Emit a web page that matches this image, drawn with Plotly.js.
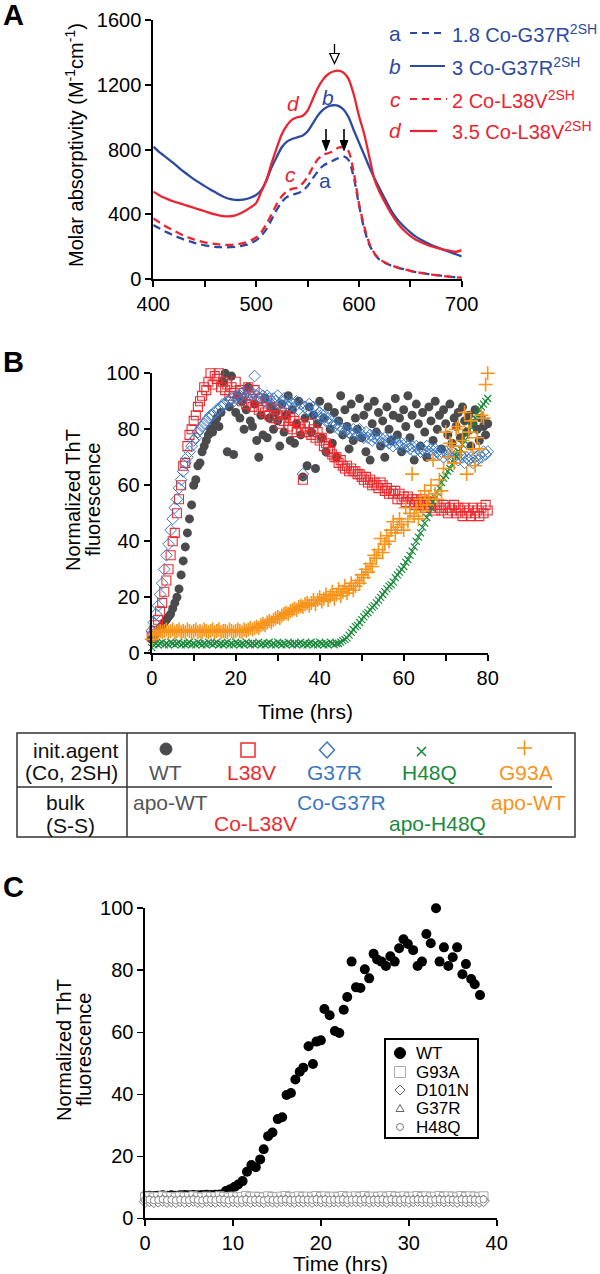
<!DOCTYPE html>
<html><head><meta charset="utf-8">
<script src="https://cdn.plot.ly/plotly-3.0.1.min.js"></script>
<style>html,body{margin:0;padding:0;background:#fff}#chart{width:600px;height:1274px}</style>
</head><body><div id="chart"></div>
<script>
// ---------------- Panel A data ----------------
const wavelength = [400,405,410,415,420,425,430,435,440,445,450,455,460,465,470,475,480,485,490,495,
500,505,510,515,520,525,530,535,540,545,550,555,560,565,570,575,580,585,590,595,
600,605,610,615,620,625,630,635,640,645,650,655,660,665,670,675,680,685,690,695,700];
const abs_a_G37R_18 = [335,318,300,285,270,257,245,235,225,217,
210,205,200,198,197,198,200,205,212,224,
240,268,310,368,428,478,508,522,530,545,
575,622,665,700,718,733,748,758,735,630,
460,315,215,158,122,102,88,77,68,60,
52,45,40,35,30,26,22,18,15,12,10];
const abs_b_G37R_3 = [818,790,765,740,715,688,662,638,615,595,
575,556,538,520,505,495,490,490,495,505,
520,550,610,690,755,815,850,866,876,886,
912,960,1010,1045,1066,1074,1070,1048,1000,920,
845,770,695,625,562,500,440,390,350,318,
290,265,245,228,213,200,188,176,164,153,142];
const abs_c_L38V_2 = [376,355,335,316,300,284,268,256,245,236,
228,222,218,214,212,212,215,220,228,240,
258,290,340,400,462,512,543,558,565,590,
630,690,740,768,778,790,812,815,790,660,
470,330,225,162,125,105,90,78,68,60,
52,45,40,35,30,26,22,18,15,12,10];
const abs_d_L38V_35 = [541,522,505,492,480,470,460,450,440,430,
420,410,400,393,388,389,395,408,425,445,
470,540,610,715,810,895,950,985,1000,1008,
1040,1110,1180,1232,1265,1282,1288,1275,1235,1140,
1010,900,760,620,540,478,420,370,328,295,
268,246,230,216,204,195,187,180,174,170,180];

// ---------------- Panel B data ----------------
const timeB = [0,0.5,1,1.5,2,2.5,3,3.5,4,4.5,
5,5.5,6,6.5,7,7.5,8,8.5,9,9.5,
10,10.5,11,11.5,12,12.5,13,13.5,14,14.5,
15,15.5,16,16.5,17,17.5,18,18.5,19,19.5,
20,20.5,21,21.5,22,22.5,23,23.5,24,24.5,
25,25.5,26,26.5,27,27.5,28,28.5,29,29.5,
30,30.5,31,31.5,32,32.5,33,33.5,34,34.5,
35,35.5,36,36.5,37,37.5,38,38.5,39,39.5,
40,40.5,41,41.5,42,42.5,43,43.5,44,44.5,
45,45.5,46,46.5,47,47.5,48,48.5,49,49.5,
50,50.5,51,51.5,52,52.5,53,53.5,54,54.5,
55,55.5,56,56.5,57,57.5,58,58.5,59,59.5,
60,60.5,61,61.5,62,62.5,63,63.5,64,64.5,
65,65.5,66,66.5,67,67.5,68,68.5,69,69.5,
70,70.5,71,71.5,72,72.5,73,73.5,74,74.5,
75,75.5,76,76.5,77,77.5,78,78.5,79,79.5,80];
const thtWT = [5,6,7,8,9,10,11,12,13,14,
16,18,20,23,28,33,38,43,48,53,
60,62,67,68,72,74,76,78,80,79,
82,84,81,86,97,100,72,88,99,71,
86,92,84,90,80,87,95,83,81,89,
76,70,85,78,91,77,84,88,80,86,
83,74,89,79,85,92,76,87,75,82,
90,78,63,84,67,88,79,85,66,82,
90,77,84,72,88,80,75,86,70,83,
92,78,87,81,73,89,76,84,80,91,
77,85,72,88,69,82,90,79,86,74,
83,70,88,80,76,85,91,78,84,72,
87,81,92,77,85,69,89,82,74,86,
79,70,88,83,76,90,80,85,73,87,
82,78,89,75,84,81,86,77,88,83,
79,85,74,82,87,80,76,84,81,78,82];
const thtL38V = [6,8,10,12,15,18,22,26,30,35,
40,43,50,55,60,67,68,74,78,80,
83,85,88,90,92,95,94,97,100,96,
99,98,100,95,97,94,96,92,95,93,
97,91,94,90,93,89,95,92,88,94,
90,87,91,88,86,90,85,88,84,87,
85,82,86,83,85,81,84,80,83,79,
82,80,62,81,79,82,78,80,77,79,
76,77,74,75,73,72,71,70,70,68,
69,67,66,67,65,66,65,65,64,64,
63,62,63,61,62,60,61,60,59,61,
60,58,59,57,58,57,58,55,57,55,
56,54,56,54,55,53,55,54,53,55,
52,54,53,52,54,51,53,52,51,53,
52,50,52,51,53,50,52,51,49,52,
50,51,49,52,50,51,49,52,50,53,51];
const thtG37R = [8,11,14,17,21,25,30,35,39,44,
48,52,55,59,62,65,68,70,72,74,
76,77,79,80,81,82,83,84,85,85,
86,87,87,88,89,89,90,90,91,90,
92,91,92,93,91,92,94,92,93,99,
92,93,91,92,90,92,91,89,91,90,
92,89,90,91,89,88,90,89,88,90,
87,89,64,88,87,89,86,88,87,85,
86,84,85,83,84,82,83,81,82,80,
81,80,79,80,79,78,80,79,78,80,
78,77,79,77,78,76,77,78,76,77,
75,77,76,75,76,74,76,75,74,75,
73,75,74,73,74,72,74,73,72,73,
72,74,72,73,71,73,72,71,72,70,
72,71,70,72,70,71,69,71,70,68,
70,69,70,68,70,69,71,70,72,71,72];
const thtH48Q = [2,3,3.5,3,3.5,4,3,3.5,3,4,
3.5,3,3.5,4,3,3.5,3,3.5,4,3,
3.5,3,4,3.5,3,3.5,3,4,3.5,3,
3.5,4,3,3.5,3,3.5,4,3,3.5,3,
4,3.5,3,3.5,3,4,3.5,3,3.5,3,
3.5,4,3,3.5,3,3.5,4,3,3.5,3,
4,3.5,3,3.5,3,4,3.5,3,3.5,3,
3.5,4,3,3.5,3,3.5,4,3,3.5,3,
4,3.5,3,3.5,3,4,3.5,3,3.5,3.5,
4,4.5,5,5.5,6.5,7.5,8.5,9.5,10,11,
12,13,14,14.5,15.5,16.5,17,18,19,20,
21,22,23,24,24.5,25.5,27,28,29,30,
31,32.5,33.5,35,36.5,38,40,41.5,43,45,
46.5,48.5,50,52,54,55.5,57.5,59,61,62.5,
63.5,65,66,67.5,69,70.5,72,73,74.5,76,
78,79.5,81,82.5,84,85.5,87,88,89,90,91];
const thtG93A = [5,6.5,7,7.5,8,7.5,8,8.5,7.5,8,
8.5,7.5,8,8.5,7.5,8,7.5,8.5,8,7.5,
8,8.5,7.5,8,7.5,8.5,8,7.5,8,8.5,
7.5,8,8.5,7.5,8,8,7.5,8.5,8,7.5,
8,8.5,8,7.5,8.5,8,8.5,9,8.5,9,
9.5,9,10,10.5,10,11,11.5,11,12,12.5,
13,12.5,13.5,14,14.5,14,15,15.5,16,15.5,
16.5,17,16.5,17.5,18,17,18,19,17.5,19,
20,18.5,19.5,21,19,20.5,22,19.5,21,23,
20.5,22,24,21.5,23,25,22.5,24,26,25,
28,27,30,29,32,31,35,34,37,41,
36,39,42,40,44,47,43,45,48,46,
44,52,47,50,64,49,52,48,55,51,
58,53,56,60,69,57,55,62,58,66,
79,70,75,74,68,80,81,72,76,86,
64,79,83,73,67,77,73,85,84,96,100];

// ---------------- Panel C data ----------------
const timeC = [0,0.5,1,1.5,2,2.5,3,3.5,4,4.5,5,5.5,6,6.5,7,7.5,8,8.5,9,9.5,
10,10.5,11,11.5,12,12.5,13,13.5,14,14.5,15,15.5,16,16.5,17,17.5,18,18.5,19,19.5,
20,20.5,21,21.5,22,22.5,23,23.5,24,24.5,25,25.5,26,26.5,27,27.5,28,28.5,29,29.5,
30,30.5,31,31.5,32,32.5,33,33.5,34,34.5,35,35.5,36,36.5,37,37.5,38,38.5];
const timeC_WT = [0,0.5,1,1.5,2,2.5,3,3.5,4,4.5,5,5.5,6,6.5,7,7.5,8,8.5,
9.2,9.7,10.2,10.6,11.1,11.6,12.1,12.6,13.1,13.5,14.0,14.5,15.1,15.6,16.1,16.6,17.1,17.6,18.0,18.6,
19.1,19.5,20.0,20.4,21.0,21.6,22.1,22.6,23.0,23.5,24.0,24.5,25.0,25.5,26.0,26.4,26.9,27.4,27.9,28.4,
28.9,29.4,29.9,30.5,31.0,31.5,32.0,32.5,33.1,33.5,34.0,34.5,35.0,35.5,36.1,36.5,37.1,37.5,38.1];
const cWT = [7.2,7.3,7.2,7.3,7.4,7.3,7.4,7.3,7.4,7.5,7.4,7.5,7.4,7.5,7.6,7.5,7.6,7.7,
8.8,9.4,10.2,10.9,12,15,17.2,16.5,19,22.3,26.5,27.7,32,32.6,39.8,40.4,44.8,47.3,48.6,55.5,
49.8,57,57.4,67.5,65.5,60.4,59.8,67.3,71.4,82.8,74.5,74.3,80.3,77.4,85.3,83.5,82.8,81.4,84.5,82.8,
87.1,90,88.5,86.5,81.4,82.8,91.7,88.7,100,82.8,87.4,81.4,84.2,87.4,78.7,82,77.2,75.5,72];
const cG93A = [6.8,7.0,6.7,6.9,7.1,6.8,6.9,6.7,7.0,6.8,6.9,7.1,6.8,6.7,7.0,6.9,6.8,7.1,6.9,6.7,
7.0,6.8,6.9,7.2,6.8,7.0,6.9,6.7,7.1,6.9,6.8,7.0,7.2,6.9,6.8,7.1,6.9,7.0,6.8,7.2,
6.9,7.1,6.8,7.0,6.9,7.2,6.8,7.0,7.1,6.9,7.2,6.8,7.0,6.9,7.1,6.8,7.2,7.0,6.9,7.1,
6.8,7.0,7.2,6.9,7.1,6.8,7.0,7.2,6.9,7.1,7.0,6.8,7.2,6.9,7.1,7.0,6.8,7.1];
const cD101N = [5.4,5.6,5.3,5.5,5.7,5.4,5.5,5.3,5.6,5.4,5.5,5.7,5.4,5.3,5.6,5.5,5.4,5.6,5.5,5.3,
5.6,5.4,5.5,5.7,5.4,5.6,5.5,5.3,5.6,5.5,5.4,5.6,5.7,5.5,5.4,5.6,5.5,5.6,5.4,5.7,
5.5,5.6,5.4,5.6,5.5,5.7,5.4,5.6,5.6,5.5,5.7,5.4,5.6,5.5,5.6,5.4,5.7,5.6,5.5,5.6,
5.4,5.6,5.7,5.5,5.6,5.4,5.6,5.7,5.5,5.6,5.6,5.4,5.7,5.5,5.6,5.6,5.4,5.6];
const cG37R = [6.2,6.3,6.1,6.2,6.4,6.2,6.3,6.1,6.3,6.2,6.2,6.4,6.2,6.1,6.3,6.3,6.2,6.4,6.3,6.1,
6.3,6.2,6.2,6.4,6.2,6.3,6.3,6.1,6.4,6.2,6.2,6.3,6.4,6.2,6.2,6.4,6.3,6.3,6.2,6.4,
6.2,6.4,6.2,6.3,6.3,6.4,6.2,6.3,6.4,6.2,6.4,6.2,6.3,6.3,6.4,6.2,6.4,6.3,6.2,6.4,
6.2,6.3,6.4,6.3,6.4,6.2,6.3,6.4,6.2,6.4,6.3,6.2,6.4,6.3,6.4,6.3,6.2,6.4];
const cH48Q = [5.9,6.0,5.8,5.9,6.1,5.9,6.0,5.8,6.0,5.9,5.9,6.1,5.9,5.8,6.0,6.0,5.9,6.1,6.0,5.8,
6.0,5.9,5.9,6.1,5.9,6.0,6.0,5.8,6.1,5.9,5.9,6.0,6.1,5.9,5.9,6.1,6.0,6.0,5.9,6.1,
5.9,6.1,5.9,6.0,6.0,6.1,5.9,6.0,6.1,5.9,6.1,5.9,6.0,6.0,6.1,5.9,6.1,6.0,5.9,6.1,
5.9,6.0,6.1,6.0,6.1,5.9,6.0,6.1,5.9,6.1,6.0,5.9,6.1,6.0,6.1,6.0,5.9,6.1];

// ---------------- helpers ----------------
const W = 600, H = 1274;
const X = p => p / W, Y = p => 1 - p / H;
const F = 'Liberation Sans, Arial, Helvetica, sans-serif';
const BLUE_A = '#2c4aa0', RED_A = '#ec2330';
const GREY = '#4b4b4d', RED = '#ee2a2e', BLUE = '#3b77c1', GREEN = '#1b8a3c', ORANGE = '#f7941d';

const traces = [];
const lineA = (y, color, dash, name) => ({x: wavelength, y: y, type: 'scatter', mode: 'lines', name: name,
  line: {color: color, width: 2.3, dash: dash, shape: 'spline', smoothing: 0.7}, xaxis: 'x', yaxis: 'y', showlegend: false});
traces.push(lineA(abs_a_G37R_18, BLUE_A, '8px,5px', 'a'));
traces.push(lineA(abs_b_G37R_3, BLUE_A, 'solid', 'b'));
traces.push(lineA(abs_c_L38V_2, RED_A, '8px,5px', 'c'));
traces.push(lineA(abs_d_L38V_35, RED_A, 'solid', 'd'));

const ptsB = (y, marker, name) => ({x: timeB, y: y, type: 'scatter', mode: 'markers', name: name, marker: marker,
  xaxis: 'x2', yaxis: 'y2', cliponaxis: false, showlegend: false});
traces.push(ptsB(thtWT, {symbol: 'circle', size: 9, color: GREY}, 'WT'));
traces.push(ptsB(thtL38V, {symbol: 'square-open', size: 9, color: RED, line: {color: RED, width: 1.1}}, 'L38V'));
traces.push(ptsB(thtG37R, {symbol: 'diamond-open', size: 9, color: BLUE, line: {color: BLUE, width: 1}}, 'G37R'));
traces.push(ptsB(thtH48Q, {symbol: 'x-thin', size: 7, color: GREEN, line: {color: GREEN, width: 1.2}}, 'H48Q'));
traces.push(ptsB(thtG93A, {symbol: 'cross-thin', size: 10, color: ORANGE, line: {color: ORANGE, width: 1.6}}, 'G93A'));

const ptsC = (x, y, marker, name) => ({x: x, y: y, type: 'scatter', mode: 'markers', name: name, marker: marker,
  xaxis: 'x3', yaxis: 'y3', cliponaxis: false, showlegend: false});
traces.push(ptsC(timeC_WT, cWT, {symbol: 'circle', size: 10, color: '#000'}, 'WT'));
traces.push(ptsC(timeC, cG93A, {symbol: 'square', size: 9, color: '#fff', line: {color: '#aaa', width: 1}}, 'G93A'));
traces.push(ptsC(timeC, cD101N, {symbol: 'diamond', size: 9, color: '#fff', line: {color: '#777', width: 1}}, 'D101N'));
traces.push(ptsC(timeC, cG37R, {symbol: 'triangle-up', size: 7, color: '#fff', line: {color: '#888', width: 1}}, 'G37R'));
traces.push(ptsC(timeC, cH48Q, {symbol: 'circle', size: 7, color: '#fff', line: {color: '#888', width: 1}}, 'H48Q'));

// ---------------- axes ----------------
const ax = (extra) => Object.assign({showline: true, linecolor: '#000', linewidth: 2, ticks: 'outside', ticklen: 6,
  tickwidth: 2, tickcolor: '#000', showgrid: false, zeroline: false, fixedrange: true,
  tickfont: {family: F, size: 20, color: '#000'}}, extra);

const layout = {
  width: W, height: H, margin: {l: 0, r: 0, t: 0, b: 0},
  paper_bgcolor: '#fff', plot_bgcolor: 'rgba(0,0,0,0)', showlegend: false,
  font: {family: F, color: '#000'},
  xaxis: ax({domain: [X(153.3), X(461.7)], range: [400, 700], anchor: 'y', tick0: 400, dtick: 100,
    minor: {dtick: 50, ticks: 'outside', ticklen: 6, tickwidth: 2, tickcolor: '#000'}}),
  yaxis: ax({domain: [Y(279.3), Y(20)], range: [0, 1600], anchor: 'x', tick0: 0, dtick: 400}),
  xaxis2: ax({domain: [X(151.7), X(487.7)], range: [0, 80], anchor: 'y2', tick0: 0, dtick: 20,
    minor: {dtick: 10, ticks: 'outside', ticklen: 6, tickwidth: 2, tickcolor: '#000'}}),
  yaxis2: ax({domain: [Y(653.3), Y(373.3)], range: [0, 100], anchor: 'x2', tick0: 0, dtick: 20}),
  xaxis3: ax({domain: [X(145), X(496.7)], range: [0, 40], anchor: 'y3', tick0: 0, dtick: 10, linewidth: 1.6, tickwidth: 1.6}),
  yaxis3: ax({domain: [Y(1218.3), Y(908.3)], range: [0, 100], anchor: 'x3', tick0: 0, dtick: 20, linewidth: 1.6, tickwidth: 1.6}),
  annotations: [], shapes: []
};

const A = layout.annotations, S = layout.shapes;
const txt = (text, x, y, o = {}) => A.push(Object.assign({text: text, xref: 'paper', yref: 'paper', x: X(x), y: Y(y),
  showarrow: false, xanchor: 'center', yanchor: 'middle', font: {family: F, size: 20, color: '#000'}}, o));
const lineS = (x0, y0, x1, y1, color, width, dash) => S.push({type: 'line', xref: 'paper', yref: 'paper',
  x0: X(x0), y0: Y(y0), x1: X(x1), y1: Y(y1), line: {color: color, width: width, dash: dash || 'solid'}});
const pathS = (pts, fill, color, width) => S.push({type: 'path', xref: 'paper', yref: 'paper',
  path: 'M' + pts.map(p => X(p[0]) + ',' + Y(p[1])).join('L') + 'Z', fillcolor: fill, line: {color: color, width: width}});
const circS = (cx, cy, r, fill, color, width) => S.push({type: 'circle', xref: 'paper', yref: 'paper',
  x0: X(cx - r), x1: X(cx + r), y0: Y(cy + r), y1: Y(cy - r), fillcolor: fill, line: {color: color, width: width}});
const rectS = (x0, y0, x1, y1, fill, color, width) => S.push({type: 'rect', xref: 'paper', yref: 'paper',
  x0: X(x0), x1: X(x1), y0: Y(y1), y1: Y(y0), fillcolor: fill, line: {color: color, width: width}});

// panel letters
txt('<b>A</b>', 13, 15, {font: {family: F, size: 29, color: '#000'}});
txt('<b>B</b>', 13, 362, {font: {family: F, size: 29, color: '#000'}});
txt('<b>C</b>', 13, 887, {font: {family: F, size: 29, color: '#000'}});

// ---- Panel A texts
txt('Molar absorptivity (M<sup>-1</sup>cm<sup>-1</sup>)', 74, 145, {textangle: -90});
const legA = [
  {l: 'a', c: BLUE_A, y: 33, dash: '7px,5px', x1: 444, t: '1.8 Co-G37R<sup>2SH</sup>'},
  {l: '<i>b</i>', c: BLUE_A, y: 66, dash: 'solid', x1: 445, t: '3 Co-G37R<sup>2SH</sup>'},
  {l: '<i>c</i>', c: RED_A, y: 99, dash: '7px,5px', x1: 447, t: '2 Co-L38V<sup>2SH</sup>'},
  {l: '<i>d</i>', c: RED_A, y: 131, dash: 'solid', x1: 437, t: '3.5 Co-L38V<sup>2SH</sup>'}
];
legA.forEach(e => {
  txt(e.l, 395, e.y, {font: {family: F, size: 21, color: e.c}});
  lineS(410, e.y, e.x1, e.y, e.c, 2.2, e.dash);
  txt(e.t, 450, e.y, {xanchor: 'left', font: {family: F, size: 20, color: e.c}});
});
// curve labels
txt('<i>d</i>', 293, 104, {font: {family: F, size: 21, color: RED_A}});
txt('<i>b</i>', 328, 98, {font: {family: F, size: 21, color: BLUE_A}});
txt('<i>c</i>', 290, 174, {font: {family: F, size: 21, color: RED_A}});
txt('a', 325, 181, {font: {family: F, size: 21, color: BLUE_A}});
// arrows
lineS(334.5, 44, 334.5, 55, '#000', 1.3);
pathS([[329.8, 53.5], [339.2, 53.5], [334.5, 63.5]], '#fff', '#000', 1.2);
[326, 344].forEach(ax0 => {
  lineS(ax0, 129, ax0, 142, '#000', 1.6);
  pathS([[ax0 - 3.8, 140.5], [ax0 + 3.8, 140.5], [ax0, 150.5]], '#000', '#000', 1);
});

// ---- Panel B texts
txt('Normalized ThT', 73, 500, {textangle: -90});
txt('fluorescence', 93, 500, {textangle: -90});
txt('Time (hrs)', 305, 711, {font: {family: F, size: 21, color: '#000'}});

// ---- Table
rectS(17, 733, 575, 837, 'rgba(0,0,0,0)', '#333', 1.5);
lineS(127, 733, 127, 837, '#333', 1.5);
lineS(17, 787, 552, 787, '#333', 1.5);
const TF = (c) => ({family: F, size: 21, color: c});
txt('init.agent', 120, 750, {xanchor: 'right', font: TF('#111')});
txt('(Co, 2SH)', 120, 772, {xanchor: 'right', font: TF('#111')});
txt('bulk', 65, 802, {font: TF('#111')});
txt('(S-S)', 70, 825, {font: TF('#111')});
circS(166, 749, 6, GREY, GREY, 1);
rectS(241, 743, 255, 757, 'rgba(0,0,0,0)', RED, 1.5);
pathS([[327, 742], [334.5, 750], [327, 758], [319.5, 750]], 'rgba(0,0,0,0)', BLUE, 1.5);
lineS(417, 747, 426, 756, GREEN, 1.6); lineS(417, 756, 426, 747, GREEN, 1.6);
lineS(517, 748, 532, 748, ORANGE, 1.6); lineS(524.5, 740.5, 524.5, 755.5, ORANGE, 1.6);
txt('WT', 165, 772, {font: TF('#555')});
txt('L38V', 251, 772, {font: TF(RED)});
txt('G37R', 334, 772, {font: TF(BLUE)});
txt('H48Q', 429, 772, {font: TF(GREEN)});
txt('G93A', 526, 772, {font: TF(ORANGE)});
txt('apo-WT', 171, 802, {font: TF('#555')});
txt('Co-L38V', 255, 823, {font: TF(RED)});
txt('Co-G37R', 342, 802, {font: TF(BLUE)});
txt('apo-H48Q', 437, 823, {font: TF(GREEN)});
txt('apo-WT', 528, 802, {font: TF(ORANGE)});

// ---- Panel C texts
txt('Normalized ThT', 64, 1050, {textangle: -90});
txt('fluorescence', 84, 1050, {textangle: -90});
txt('Time (hrs)', 340, 1263, {font: {family: F, size: 21, color: '#000'}});
// legend box
rectS(385, 1039, 478, 1138, '#fff', '#000', 2);
const legC = [['WT', 1053], ['G93A', 1072], ['D101N', 1090], ['G37R', 1108.5], ['H48Q', 1127]];
legC.forEach(e => txt(e[0], 414, e[1], {xanchor: 'left', font: {family: F, size: 17, color: '#000'}}));
circS(400, 1053, 5.5, '#000', '#000', 1);
rectS(394.5, 1066.5, 405.5, 1077.5, '#fff', '#aaa', 1);
pathS([[400, 1085], [405, 1090], [400, 1095], [395, 1090]], '#fff', '#666', 1);
pathS([[400, 1104.5], [404, 1111.5], [396, 1111.5]], '#fff', '#666', 1);
circS(400, 1127, 3.5, '#fff', '#777', 1);

Plotly.newPlot('chart', traces, layout, {staticPlot: true, displayModeBar: false});
</script></body></html>
